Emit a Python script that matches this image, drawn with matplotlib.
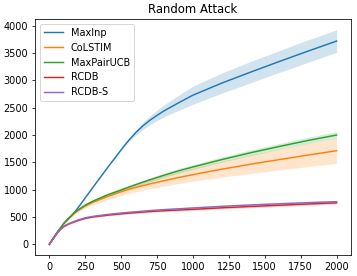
import numpy as np
import matplotlib
matplotlib.use("Agg")
import matplotlib.pyplot as plt

# rounds (x axis)
t = [0, 25, 50, 75, 100, 125, 150, 175, 200, 250, 300, 400, 500, 550, 600, 650,
     700, 750, 800, 900, 1000, 1200, 1400, 1600, 1800, 2000]

# mean curves
maxinp = [0, 100, 200, 290, 380, 450, 515, 585, 670, 850, 1030, 1385, 1730, 1895, 2040, 2165,
          2270, 2360, 2445, 2590, 2730, 2950, 3150, 3345, 3535, 3720]
colstim = [0, 100, 200, 290, 375, 445, 510, 570, 620, 700, 765, 870, 963, 1003, 1040, 1073,
           1105, 1135, 1165, 1222, 1275, 1375, 1465, 1550, 1633, 1713]
maxpair = [0, 100, 200, 290, 380, 450, 515, 580, 630, 718, 785, 900, 994, 1043, 1090, 1136,
           1180, 1223, 1265, 1345, 1415, 1550, 1675, 1790, 1900, 2000]
rcdb = [0, 95, 188, 265, 322, 358, 388, 412, 436, 475, 500, 532, 558, 570, 580, 590,
        600, 608, 615, 628, 640, 668, 692, 715, 738, 760]
rcdb_s = [0, 95, 190, 270, 330, 365, 395, 420, 445, 485, 510, 545, 572, 584, 595, 606,
          617, 626, 635, 650, 665, 695, 720, 742, 762, 780]

# half widths of shaded bands
maxinp_sd = [0, 0, 0, 0, 0, 0, 0, 0, 0, 0, 0, 2, 10, 28, 50, 65,
             80, 95, 110, 140, 165, 185, 195, 200, 205, 207]
colstim_sd = [0, 4, 8, 12, 16, 20, 24, 28, 32, 40, 48, 60, 70, 75, 80, 85,
              90, 95, 100, 110, 120, 145, 170, 190, 210, 230]
maxpair_sd = [0, 4, 8, 10, 12, 14, 16, 18, 20, 22, 24, 27, 30, 31, 33, 35,
              36, 38, 39, 42, 44, 48, 52, 55, 58, 60]
rcdb_sd = [0, 4, 6, 8, 10, 11, 12, 13, 14, 15, 16, 17, 18, 18, 19, 19,
           20, 20, 20, 21, 21, 22, 23, 24, 25, 26]
rcdb_s_sd = [0, 4, 6, 8, 10, 11, 12, 13, 14, 15, 16, 17, 18, 18, 19, 19,
             20, 20, 20, 21, 21, 22, 23, 24, 25, 26]

names = ['MaxInp', 'CoLSTIM', 'MaxPairUCB', 'RCDB', 'RCDB-S']
means = [maxinp, colstim, maxpair, rcdb, rcdb_s]
sds = [maxinp_sd, colstim_sd, maxpair_sd, rcdb_sd, rcdb_s_sd]

fig, ax = plt.subplots(figsize=(5.1, 3.943), dpi=70)
fig.subplots_adjust(left=0.098, right=0.983, bottom=0.076, top=0.931)

x = np.array(t)
for name, m, s in zip(names, means, sds):
	m = np.array(m)
	s = np.array(s)
	line, = ax.plot(x, m, label=name)
	ax.fill_between(x, m - s, m + s, color=line.get_color(), alpha=0.2, linewidth=0)

ax.set_xticks([0, 250, 500, 750, 1000, 1250, 1500, 1750, 2000])
ax.set_yticks([0, 500, 1000, 1500, 2000, 2500, 3000, 3500, 4000])
ax.set_title('Random Attack')
ax.legend(loc='upper left')

fig.savefig('out.png', dpi=70)
